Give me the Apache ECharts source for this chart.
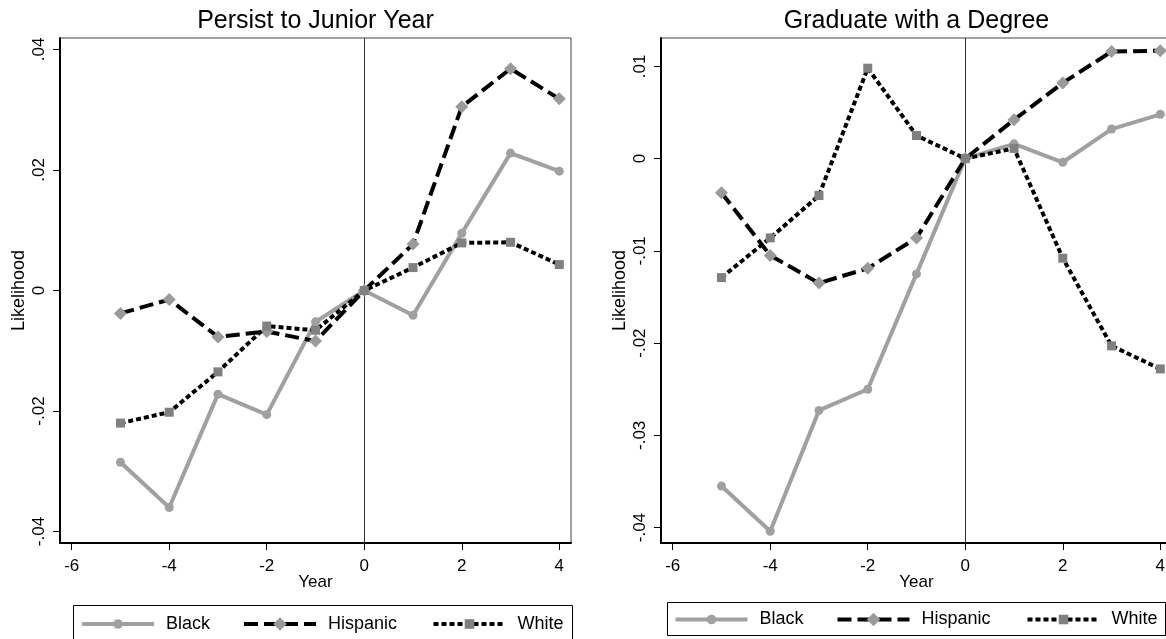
<!DOCTYPE html>
<html>
<head>
<meta charset="utf-8">
<title>Likelihood by Year</title>
<script src="https://cdn.jsdelivr.net/npm/echarts@6/dist/echarts.min.js"></script>
<style>
  html, body { margin: 0; padding: 0; background: #fff; }
  #chart { width: 1166px; height: 639px; }
</style>
</head>
<body>
<div id="chart"></div>
<script>
// Event-time estimates, years relative to the policy year (0)
const years = [-5, -4, -3, -2, -1, 0, 1, 2, 3, 4];

const persistBlack    = [-0.0285, -0.0360, -0.0172, -0.0206, -0.0052, 0, -0.0041, 0.0095, 0.0228, 0.0198];
const persistHispanic = [-0.0038, -0.0015, -0.0077, -0.0068, -0.0084, 0,  0.0077, 0.0305, 0.0368, 0.0318];
const persistWhite    = [-0.0220, -0.0202, -0.0135, -0.0059, -0.0066, 0,  0.0038, 0.0079, 0.0080, 0.0043];

const gradBlack    = [-0.0355, -0.0404, -0.0273, -0.0250, -0.0125, 0, 0.0016, -0.0004, 0.0032, 0.0048];
const gradHispanic = [-0.0037, -0.0105, -0.0135, -0.0119, -0.0086, 0, 0.0042,  0.0082, 0.0116, 0.0117];
const gradWhite    = [-0.0129, -0.0086, -0.0040,  0.0098,  0.0025, 0, 0.0011, -0.0108, -0.0203, -0.0228];

const xTicks = [-6, -4, -2, 0, 2, 4];
const persistTicks = [-0.04, -0.02, 0, 0.02, 0.04];
const gradTicks = [-0.04, -0.03, -0.02, -0.01, 0, 0.01];

const panelTitles = ['Persist to Junior Year', 'Graduate with a Degree'];
const groupNames = ['Black', 'Hispanic', 'White'];
const xAxisTitle = 'Year';
const yAxisTitle = 'Likelihood';

// ---- styling and layout ----
const FONT = '"Liberation Sans", Arial, Helvetica, sans-serif';

const groupStyles = {
  Black:    { symbol: 'circle',  size: 9,  marker: '#a0a0a0', line: '#a0a0a0', dash: 'solid', legendH: 12 },
  Hispanic: { symbol: 'diamond', size: 13, marker: '#9a9a9a', line: '#000000', dash: [14, 6], legendH: 17 },
  White:    { symbol: 'rect',    size: 9,  marker: '#808080', line: '#000000', dash: [5, 3],  legendH: 12 }
};

const panels = [
  {
    left: 60, yMin: -0.0419, yMax: 0.0419, ticks: persistTicks,
    values: { Black: persistBlack, Hispanic: persistHispanic, White: persistWhite },
    legendLeft: [80, 242, 431.5], legendTop: 615,
    box: { x: 73.5, y: 605.5, w: 499, h: 40 }
  },
  {
    left: 661, yMin: -0.04167, yMax: 0.01307, ticks: gradTicks,
    values: { Black: gradBlack, Hispanic: gradHispanic, White: gradWhite },
    legendLeft: [673.5, 835.5, 1025.5], legendTop: 610.5,
    box: { x: 667.5, y: 602.5, w: 498, h: 33 }
  }
];

const GRID_TOP = 38, GRID_W = 511, GRID_H = 505;

function stataNum(v) {
  if (Math.abs(v) < 1e-12) return '0';
  const s = Math.abs(v).toFixed(2).replace(/^0/, '');
  return (v < 0 ? '-' : '') + s;
}

const grids = [], xAxes = [], yAxes = [], series = [], legends = [], graphics = [];

panels.forEach((p, i) => {
  grids.push({
    left: p.left, top: GRID_TOP, width: GRID_W, height: GRID_H,
    show: true, borderColor: '#444', borderWidth: 1, backgroundColor: 'transparent',
    outerBoundsMode: 'none', containLabel: false
  });

  xAxes.push({
    gridIndex: i, type: 'value', min: -6.24, max: 4.24,
    name: xAxisTitle, nameLocation: 'middle', nameGap: 31, nameMoveOverlap: false,
    nameTextStyle: { fontFamily: FONT, fontSize: 17, color: '#000' },
    axisLine: { onZero: false, lineStyle: { color: '#000', width: 2 } },
    axisTick: { show: true, inside: false, length: 7, customValues: xTicks, lineStyle: { color: '#000', width: 1 } },
    axisLabel: { customValues: xTicks, margin: 14.5, fontFamily: FONT, fontSize: 17, color: '#000',
                 formatter: v => String(v) },
    splitLine: { show: false }
  });

  yAxes.push({
    gridIndex: i, type: 'value', min: p.yMin, max: p.yMax,
    name: yAxisTitle, nameLocation: 'middle', nameGap: 32, nameRotate: 90, nameMoveOverlap: false,
    nameTextStyle: { fontFamily: FONT, fontSize: 18, color: '#000' },
    axisLine: { onZero: false, lineStyle: { color: '#000', width: 2 } },
    axisTick: { show: true, inside: false, length: 7, customValues: p.ticks, lineStyle: { color: '#000', width: 1 } },
    axisLabel: { customValues: p.ticks, rotate: 90, margin: 12.5, fontFamily: FONT, fontSize: 17, color: '#000',
                 formatter: stataNum },
    splitLine: { show: false }
  });

  groupNames.forEach((name, g) => {
    const st = groupStyles[name];
    const s = {
      type: 'line', name: name, xAxisIndex: i, yAxisIndex: i,
      data: years.map((yr, k) => [yr, p.values[name][k]]),
      symbol: st.symbol, symbolSize: st.size, showSymbol: true, showAllSymbol: true,
      itemStyle: { color: st.marker },
      lineStyle: { color: st.line, width: 4, type: st.dash, cap: 'butt', join: 'round' },
      z: 2 + g, animation: false, silent: true,
      emphasis: { disabled: true }
    };
    if (g === 0) {
      // vertical reference line at year 0
      s.markLine = {
        silent: true, z: 1, symbol: ['none', 'none'], label: { show: false },
        lineStyle: { color: '#333', width: 1, type: 'solid' },
        emphasis: { disabled: true },
        data: [{ xAxis: 0 }]
      };
    }
    series.push(s);

    legends.push({
      data: [name], left: p.legendLeft[g], top: p.legendTop,
      itemWidth: 72, itemHeight: st.legendH, padding: 0, selectedMode: false,
      lineStyle: { width: 4, color: st.line, type: st.dash, cap: 'butt' },
      itemStyle: { color: st.marker },
      textStyle: { fontFamily: FONT, fontSize: 18, color: '#000', padding: [0, 0, 0, 7] }
    });
  });

  // panel title
  graphics.push({
    type: 'text', x: p.left + GRID_W / 2, y: 21.5, silent: true,
    style: { text: panelTitles[i], font: '25px ' + FONT, fill: '#000', align: 'center', verticalAlign: 'middle' }
  });

  // legend frame
  graphics.push({
    type: 'rect', silent: true, z: -1,
    shape: { x: p.box.x, y: p.box.y, width: p.box.w, height: p.box.h },
    style: { fill: '#fff', stroke: '#000', lineWidth: 1 }
  });
});

const chart = echarts.init(document.getElementById('chart'), null, { renderer: 'canvas' });
chart.setOption({
  animation: false,
  backgroundColor: '#fff',
  grid: grids,
  xAxis: xAxes,
  yAxis: yAxes,
  legend: legends,
  series: series,
  graphic: graphics
});
</script>
</body>
</html>
